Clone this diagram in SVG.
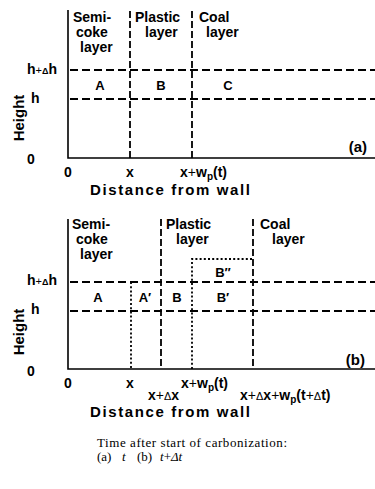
<svg xmlns="http://www.w3.org/2000/svg" width="375" height="489" viewBox="0 0 375 489">
<style>
.ax{stroke:#000;stroke-width:1.6;fill:none}
.da{stroke:#000;stroke-width:2;stroke-dasharray:8 4;fill:none}
.dv{stroke:#000;stroke-width:1.8;stroke-dasharray:7 3;fill:none}
.dt{stroke:#000;stroke-width:1.8;stroke-dasharray:2 2.2;fill:none}
.t{font-family:"Liberation Sans",Arial,sans-serif;font-weight:bold;font-size:14px;fill:#000}
.s{font-size:13px}
.n{font-weight:normal}
.c{font-family:"Liberation Serif","Times New Roman",serif;font-size:13px;fill:#000}
</style>
<rect width="375" height="489" fill="#fff"/>

<!-- Panel (a) -->
<g id="panel-a-axes">
<path class="ax" d="M68,10 V158 H375"/>
</g>
<g id="connectors-a">
<path class="dv" d="M130,11 V158"/>
<path class="dv" d="M192,11 V158"/>
<path class="da" d="M70,70 H375"/>
<path class="da" d="M70,99 H375"/>
</g>
<g id="a-semicoke" class="t">
<text x="73" y="22">Semi-</text>
<text x="76" y="37">coke</text>
<text x="80" y="52">layer</text>
</g>
<g id="a-plastic" class="t">
<text x="135" y="22">Plastic</text>
<text x="145" y="37">layer</text>
</g>
<g id="a-coal" class="t">
<text x="199" y="22">Coal</text>
<text x="206" y="37">layer</text>
</g>
<g id="a-cells" class="t s">
<text x="100" y="90" text-anchor="middle">A</text>
<text x="161" y="90" text-anchor="middle">B</text>
<text x="228" y="90" text-anchor="middle">C</text>
</g>
<g id="a-yaxis" class="t">
<text x="27" y="74">h<tspan class="n" font-size="11">+</tspan><tspan font-size="9">Δ</tspan>h</text>
<text x="31" y="103">h</text>
<text x="27" y="164">0</text>
<text transform="translate(24,118) rotate(-90)" text-anchor="middle" font-size="15">Height</text>
<text x="367" y="152" text-anchor="end" font-size="15">(a)</text>
</g>
<g id="a-xaxis" class="t">
<text x="64" y="177">0</text>
<text x="130" y="177" text-anchor="middle">x</text>
<text x="180" y="177">x<tspan class="n">+</tspan>w<tspan font-size="10" dy="3">p</tspan><tspan dy="-3">(t)</tspan></text>
<text x="90" y="195" font-size="15" textLength="160" lengthAdjust="spacing">Distance from wall</text>
</g>

<!-- Panel (b) -->
<g id="panel-b-axes">
<path class="ax" d="M68,219 V369 H375"/>
</g>
<g id="connectors-b">
<path class="dv" d="M161,219 V369"/>
<path class="dv" d="M253,219 V369"/>
<path class="da" d="M70,282 H375"/>
<path class="da" d="M70,311 H375"/>
<path class="dt" d="M131,282 V369"/>
<path class="dt" d="M192,369 V259 H253"/>
</g>
<g id="b-semicoke" class="t">
<text x="72" y="229">Semi-</text>
<text x="76" y="244">coke</text>
<text x="80" y="259">layer</text>
</g>
<g id="b-plastic" class="t">
<text x="166" y="229">Plastic</text>
<text x="176" y="244">layer</text>
</g>
<g id="b-coal" class="t">
<text x="260" y="229">Coal</text>
<text x="272" y="244">layer</text>
</g>
<g id="b-cells" class="t s">
<text x="98" y="302" text-anchor="middle">A</text>
<text x="145" y="302" text-anchor="middle">A′</text>
<text x="177" y="302" text-anchor="middle">B</text>
<text x="223" y="302" text-anchor="middle">B′</text>
<text x="223" y="277" text-anchor="middle">B″</text>
</g>
<g id="b-yaxis" class="t">
<text x="27" y="285">h<tspan class="n" font-size="11">+</tspan><tspan font-size="9">Δ</tspan>h</text>
<text x="31" y="314">h</text>
<text x="27" y="376">0</text>
<text transform="translate(24,332) rotate(-90)" text-anchor="middle" font-size="15">Height</text>
<text x="365" y="365" text-anchor="end" font-size="15">(b)</text>
</g>
<g id="b-xaxis" class="t">
<text x="64" y="388">0</text>
<text x="130" y="388" text-anchor="middle">x</text>
<text x="181" y="388">x<tspan class="n">+</tspan>w<tspan font-size="10" dy="3">p</tspan><tspan dy="-3">(t)</tspan></text>
<text x="148" y="400">x<tspan class="n">+</tspan><tspan class="n" font-size="11">Δ</tspan>x</text>
<text x="240" y="400">x<tspan class="n">+</tspan><tspan class="n" font-size="11">Δ</tspan>x<tspan class="n">+</tspan>w<tspan font-size="10" dy="3">p</tspan><tspan dy="-3">(t</tspan><tspan class="n">+</tspan><tspan class="n" font-size="11">Δ</tspan>t)</text>
<text x="90" y="417" font-size="15" textLength="160" lengthAdjust="spacing">Distance from wall</text>
</g>

<g id="caption" class="c">
<text x="97" y="447" textLength="190" lengthAdjust="spacing">Time after start of carbonization:</text>
<text x="97" y="461">(a)</text>
<text x="122" y="461" font-style="italic">t</text>
<text x="137" y="461">(b)</text>
<text x="160" y="461"><tspan font-style="italic">t</tspan>+<tspan font-style="italic">Δt</tspan></text>
</g>
</svg>
